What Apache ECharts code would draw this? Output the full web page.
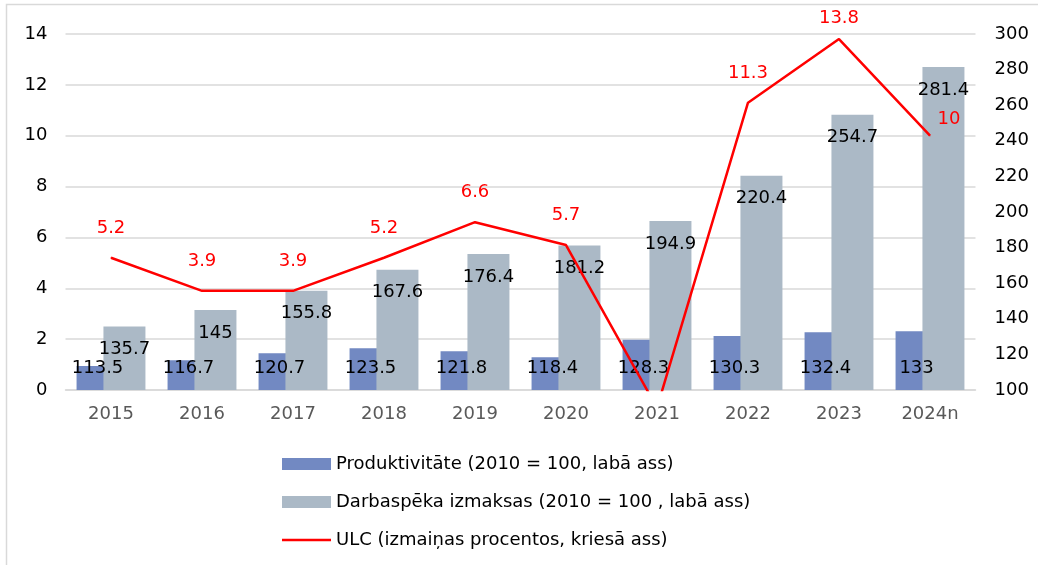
<!DOCTYPE html>
<html>
<head>
<meta charset="utf-8">
<script src="https://cdn.jsdelivr.net/npm/echarts@6/dist/echarts.min.js"></script>
<style>html,body{margin:0;padding:0;background:#fff}#c{width:1038px;height:565px}</style>
</head>
<body>
<div id="c"></div>
<script>
const categories = ['2015','2016','2017','2018','2019','2020','2021','2022','2023','2024n'];
const productivity = [113.5,116.7,120.7,123.5,121.8,118.4,128.3,130.3,132.4,133];
const laborCosts = [135.7,145,155.8,167.6,176.4,181.2,194.9,220.4,254.7,281.4];
const ulc = [5.2,3.9,3.9,5.2,6.6,5.7,-0.7,11.3,13.8,10];
const names = ['Produktivitāte (2010 = 100, labā ass)','Darbaspēka izmaksas (2010 = 100 , labā ass)','ULC (izmaiņas procentos, kriesā ass)'];
const titleText = 'Vienības darbaspēka izmaksas, produktivitāte un darbaspēka izmaksas (%)';

const FONT = 'DejaVu Sans';
const FS = 18;
const ulcData = ulc.map((v, i) => {
  const d = {value: v};
  if (i === ulc.length - 1) d.label = {position: 'right', distance: 7, offset: [0, -16]};
  if (i === 8) d.label = {distance: 11};
  return d;
});

const chart = echarts.init(document.getElementById('c'));
chart.setOption({
  animation: false,
  textStyle: {fontFamily: FONT},
  graphic: [
    {type: 'rect', shape: {x: 6.5, y: 4.5, width: 1100, height: 700}, style: {fill: 'none', stroke: '#d9d9d9', lineWidth: 1.5}, z: -10},
    {type: 'text', left: 40, top: -19, style: {text: titleText, fill: '#a6262b', fontFamily: FONT, fontSize: 18, fontWeight: 'bold'}}
  ],
  grid: {left: 65.5, right: 62.5, top: 34, bottom: 175, containLabel: false},
  legend: {
    orient: 'vertical', left: 277, top: 450, itemGap: 20, itemWidth: 49, itemHeight: 12,
    textStyle: {fontFamily: FONT, fontSize: FS, color: '#000'},
    data: [
      {name: names[0], icon: 'rect'},
      {name: names[1], icon: 'rect'},
      {name: names[2], icon: 'path://M0,0h49v2.6h-49z'}
    ]
  },
  xAxis: {
    type: 'category', data: categories,
    axisLine: {lineStyle: {color: '#d9d9d9', width: 1.5}},
    axisTick: {show: false},
    axisLabel: {color: '#595959', fontSize: FS, margin: 15, fontFamily: FONT}
  },
  yAxis: [
    {type: 'value', min: 0, max: 14, interval: 2, position: 'left',
     axisLine: {show: false}, axisTick: {show: false},
     axisLabel: {color: '#000', fontSize: FS, margin: 18, fontFamily: FONT},
     splitLine: {lineStyle: {color: '#d9d9d9', width: 1.5}}},
    {type: 'value', min: 100, max: 300, interval: 20, position: 'right',
     axisLine: {show: false}, axisTick: {show: false},
     axisLabel: {color: '#000', fontSize: FS, margin: 19, fontFamily: FONT},
     splitLine: {show: false}}
  ],
  series: [
    {name: names[0], type: 'bar', yAxisIndex: 1, data: productivity, barWidth: 42, barGap: '-36%',
     itemStyle: {color: '#7289c2'},
     label: {show: true, position: 'insideBottom', distance: 13, color: '#000', fontSize: FS, fontFamily: FONT}},
    {name: names[1], type: 'bar', yAxisIndex: 1, data: laborCosts, barWidth: 42, barGap: '-36%',
     itemStyle: {color: '#abb9c6'},
     label: {show: true, position: 'insideTop', distance: 14, color: '#000', fontSize: FS, fontFamily: FONT}},
    {name: names[2], type: 'line', yAxisIndex: 0, data: ulcData, clip: true,
     symbol: 'circle', symbolSize: 1, showSymbol: true,
     lineStyle: {color: '#ff0000', width: 2.5}, itemStyle: {color: '#ff0000'},
     label: {show: true, position: 'top', distance: 20, color: '#ff0000', fontSize: FS, fontFamily: FONT,
             formatter: p => (p.value < 0 ? '' : String(p.value))}}
  ]
});
</script>
</body>
</html>
